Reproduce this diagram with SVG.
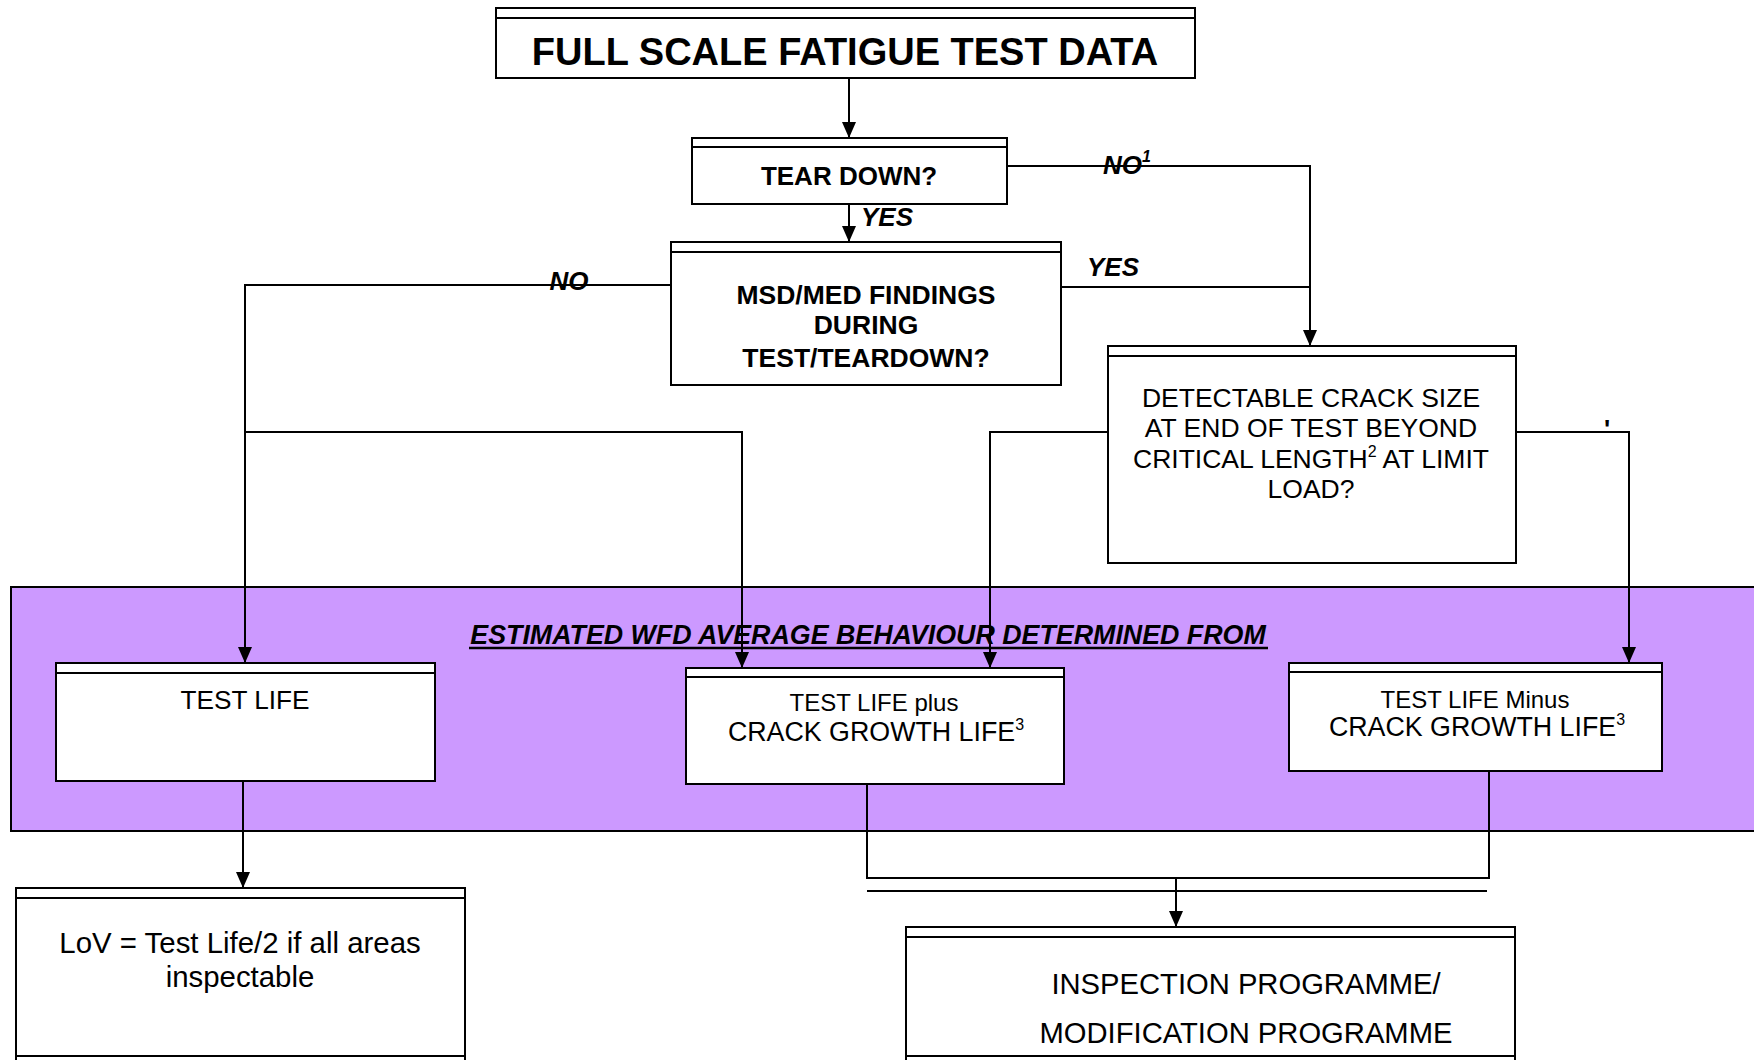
<svg xmlns="http://www.w3.org/2000/svg" width="1754" height="1060" viewBox="0 0 1754 1060">
<style>
.box{fill:#fff;stroke:#000;stroke-width:2}
.hdr{stroke:#000;stroke-width:2}
.ln{fill:none;stroke:#000;stroke-width:2}
.t{font-family:"Liberation Sans",Arial,sans-serif;fill:#000;text-anchor:middle}
.b{font-weight:bold}
.bi{font-weight:bold;font-style:italic}
</style>
<defs>
<marker id="arr" viewBox="0 0 16 14" refX="16" refY="7" markerWidth="16" markerHeight="14" markerUnits="userSpaceOnUse" orient="auto">
<path d="M0,0 L16,7 L0,14 z" fill="#000"/>
</marker>
</defs>
<rect width="1754" height="1060" fill="#fff"/>

<g id="band">
<rect x="11" y="587" width="1760" height="244" fill="#CC99FF" stroke="#000" stroke-width="2"/>
<text class="t bi" x="868" y="644" font-size="26.8">ESTIMATED WFD AVERAGE BEHAVIOUR DETERMINED FROM</text>
<line x1="469" y1="648" x2="1268" y2="648" stroke="#000" stroke-width="2.5"/>
</g>

<g id="connectors">
<path class="ln" d="M849,78 V138" marker-end="url(#arr)"/>
<path class="ln" d="M849,204 V242" marker-end="url(#arr)"/>
<path class="ln" d="M1007,166 H1310 V346" marker-end="url(#arr)"/>
<path class="ln" d="M1060,287 H1310"/>
<path class="ln" d="M671,285 H245 V663" marker-end="url(#arr)"/>
<path class="ln" d="M245,432 H742 V668" marker-end="url(#arr)"/>
<path class="ln" d="M1108,432 H990 V668" marker-end="url(#arr)"/>
<path class="ln" d="M1516,432 H1629 V663" marker-end="url(#arr)"/>
<path class="ln" d="M243,781 V888" marker-end="url(#arr)"/>
<path class="ln" d="M867,784 V878 H1489 V771"/>
<path class="ln" d="M867,891 H1487"/>
<path class="ln" d="M1176,878 V927" marker-end="url(#arr)"/>
<text class="t bi" x="1127" y="174" font-size="26">NO<tspan font-size="16" dy="-12">1</tspan></text>
<text class="t bi" x="887" y="226" font-size="26">YES</text>
<text class="t bi" x="569" y="290" font-size="26">NO</text>
<text class="t bi" x="1113" y="276" font-size="26">YES</text>
<text class="t b" x="1607" y="438" font-size="26">'</text>
</g>

<g id="full-scale">
<rect class="box" x="496" y="8" width="699" height="70"/>
<line class="hdr" x1="496" y1="18" x2="1195" y2="18"/>
<text class="t b" x="845" y="65" font-size="38">FULL SCALE FATIGUE TEST DATA</text>
</g>

<g id="tear-down">
<rect class="box" x="692" y="138" width="315" height="66"/>
<line class="hdr" x1="692" y1="147" x2="1007" y2="147"/>
<text class="t b" x="849" y="185" font-size="26">TEAR DOWN?</text>
</g>

<g id="msd">
<rect class="box" x="671" y="242" width="390" height="143"/>
<line class="hdr" x1="671" y1="252" x2="1061" y2="252"/>
<text class="t b" font-size="26.5"><tspan x="866" y="304">MSD/MED FINDINGS</tspan><tspan x="866" y="334">DURING</tspan><tspan x="866" y="367">TEST/TEARDOWN?</tspan></text>
</g>

<g id="detectable">
<rect class="box" x="1108" y="346" width="408" height="217"/>
<line class="hdr" x1="1108" y1="356" x2="1516" y2="356"/>
<text class="t" font-size="26.5"><tspan x="1311" y="407">DETECTABLE CRACK SIZE</tspan><tspan x="1311" y="437">AT END OF TEST BEYOND</tspan><tspan x="1311" y="468">CRITICAL LENGTH<tspan font-size="16" dy="-11">2</tspan><tspan dy="11"> AT LIMIT</tspan></tspan><tspan x="1311" y="498">LOAD?</tspan></text>
</g>

<g id="test-life">
<rect class="box" x="56" y="663" width="379" height="118"/>
<line class="hdr" x1="56" y1="673" x2="435" y2="673"/>
<text class="t" x="245" y="709" font-size="26.2">TEST LIFE</text>
</g>

<g id="test-life-plus">
<rect class="box" x="686" y="668" width="378" height="116"/>
<line class="hdr" x1="686" y1="677" x2="1064" y2="677"/>
<text class="t" x="874" y="711" font-size="24">TEST LIFE plus</text>
<text class="t" x="876" y="741" font-size="26.8">CRACK GROWTH LIFE<tspan font-size="16" dy="-11">3</tspan></text>
</g>

<g id="test-life-minus">
<rect class="box" x="1289" y="663" width="373" height="108"/>
<line class="hdr" x1="1289" y1="672" x2="1662" y2="672"/>
<text class="t" x="1475" y="708" font-size="24">TEST LIFE Minus</text>
<text class="t" x="1477" y="736" font-size="26.8">CRACK GROWTH LIFE<tspan font-size="16" dy="-11">3</tspan></text>
</g>

<g id="lov">
<rect class="box" x="16" y="888" width="449" height="168"/>
<line class="hdr" x1="16" y1="898" x2="465" y2="898"/>
<path class="ln" d="M16,1056 V1062 M465,1056 V1062"/>
<text class="t" font-size="29.4"><tspan x="240" y="953">LoV = Test Life/2 if all areas</tspan><tspan x="240" y="987">inspectable</tspan></text>
</g>

<g id="inspection">
<rect class="box" x="906" y="927" width="609" height="129"/>
<line class="hdr" x1="906" y1="937" x2="1515" y2="937"/>
<path class="ln" d="M906,1056 V1062 M1515,1056 V1062"/>
<text class="t" font-size="29.2"><tspan x="1246" y="994">INSPECTION PROGRAMME/</tspan><tspan x="1246" y="1043">MODIFICATION PROGRAMME</tspan></text>
</g>
</svg>
